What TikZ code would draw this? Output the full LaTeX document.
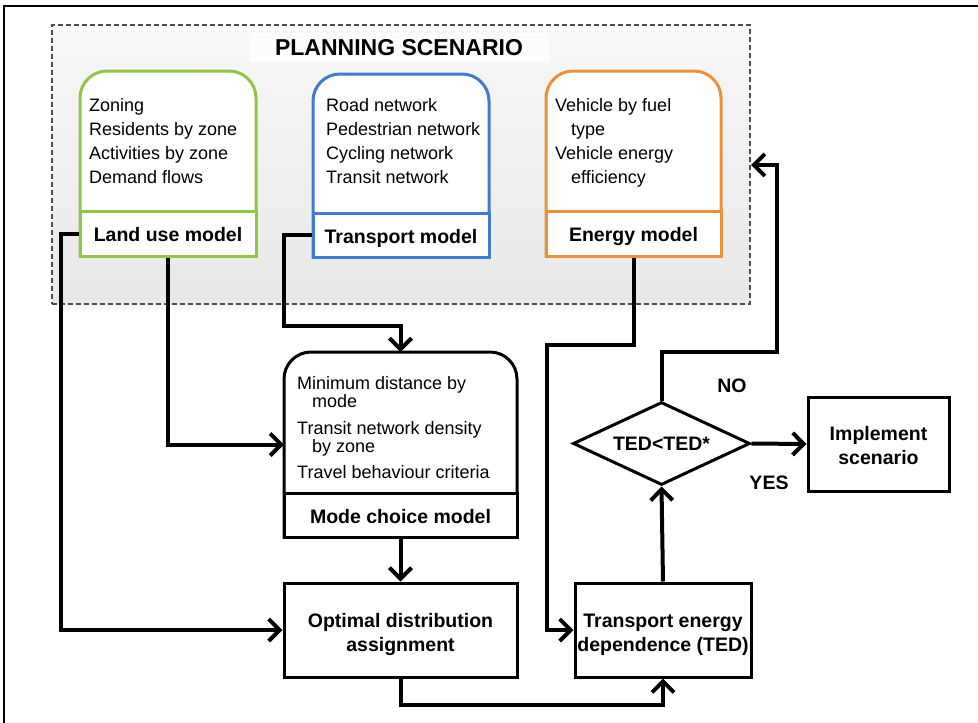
\documentclass[tikz,border=0pt]{standalone}
\usepackage{fontspec}
\setmainfont{Liberation Sans}
\usetikzlibrary{arrows.meta,shapes.geometric,calc}
\definecolor{lugreen}{RGB}{146,196,72}
\definecolor{tmblue}{RGB}{64,124,200}
\definecolor{emorange}{RGB}{232,146,62}
\newcommand{\regfont}{\fontsize{18}{22}\selectfont}
\newcommand{\boldfnt}{\fontsize{19.5}{23.5}\selectfont\bfseries}
\newcommand{\ttlfont}{\fontsize{23}{28}\selectfont\bfseries}
\newcommand{\twolines}[3]{\raisebox{-#1pt}[0pt][0pt]{\begin{tabular}[b]{@{}c@{}}#2\\#3\end{tabular}}}
\begin{document}
\begin{tikzpicture}[x=1pt,y=-1pt,
  conn/.style={line width=4pt,-{Straight Barb[length=11pt,width=22pt]}},
  hdr/.style={draw,line width=3pt,fill=white,font=\boldfnt,inner sep=0pt,text height=16pt,text depth=0pt},
  boxb/.style={draw,line width=3pt,fill=white,font=\boldfnt,inner sep=0pt},
  bodyarea/.style={inner sep=0pt,outer sep=0pt},
  txt/.style={anchor=base west,font=\regfont,inner sep=0pt},
  lbl/.style={font=\boldfnt,inner sep=0pt}]
\useasboundingbox (0,0) rectangle (978,723);

% frame (top and left only)
\draw[line width=1.5pt] (4,723) -- (4,6) -- (978,6);

% planning scenario region
\node[draw=black!70,dash pattern=on 5pt off 3pt,line width=1.2pt,
      top color=black!3,bottom color=black!9,
      minimum width=698,minimum height=279,inner sep=0pt] (scen) at (401,164.5) {};
\node[fill=black!1,minimum width=300,minimum height=29,inner sep=0pt,font=\ttlfont] (title) at (399,47.5) {PLANNING SCENARIO};

% Land use model
\node[bodyarea,minimum width=176,minimum height=185] (lub) at (168,163.5) {};
\draw[lugreen,line width=3pt,fill=white] (lub.south west) -- ($(lub.north west)+(0,27)$)
  arc[start angle=180,end angle=270,radius=27] -- ($(lub.north east)+(-27,0)$)
  arc[start angle=270,end angle=360,radius=27] -- (lub.south east) -- cycle;
\node[hdr,draw=lugreen,minimum width=176,minimum height=45] (lu) at (168,233.5) {Land use model};
\node[txt] (lu1) at (89,111) {Zoning};
\node[txt] (lu2) at (89,135) {Residents by zone};
\node[txt] (lu3) at (89,159) {Activities by zone};
\node[txt] (lu4) at (89,183) {Demand flows};

% Transport model
\node[bodyarea,minimum width=176,minimum height=183] (tmb) at (401,165.5) {};
\draw[tmblue,line width=3pt,fill=white] (tmb.south west) -- ($(tmb.north west)+(0,27)$)
  arc[start angle=180,end angle=270,radius=27] -- ($(tmb.north east)+(-27,0)$)
  arc[start angle=270,end angle=360,radius=27] -- (tmb.south east) -- cycle;
\node[hdr,draw=tmblue,minimum width=176,minimum height=44] (tm) at (401,235) {Transport model};
\node[txt] (tm1) at (326,111) {Road network};
\node[txt] (tm2) at (326,135) {Pedestrian network};
\node[txt] (tm3) at (326,159) {Cycling network};
\node[txt] (tm4) at (326,183) {Transit network};

% Energy model
\node[bodyarea,minimum width=175,minimum height=185] (emb) at (633.5,163.5) {};
\draw[emorange,line width=3pt,fill=white] (emb.south west) -- ($(emb.north west)+(0,27)$)
  arc[start angle=180,end angle=270,radius=27] -- ($(emb.north east)+(-27,0)$)
  arc[start angle=270,end angle=360,radius=27] -- (emb.south east) -- cycle;
\node[hdr,draw=emorange,minimum width=175,minimum height=45] (em) at (633.5,233.5) {Energy model};
\node[txt] (em1) at (555,111) {Vehicle by fuel};
\node[txt] (em2) at (571,135) {type};
\node[txt] (em3) at (555,159) {Vehicle energy};
\node[txt] (em4) at (571,183) {efficiency};

% Mode choice model
\node[bodyarea,minimum width=233,minimum height=185] (mcb) at (400.5,444.5) {};
\draw[black,line width=3pt,fill=white] (mcb.south west) -- ($(mcb.north west)+(0,27)$)
  arc[start angle=180,end angle=270,radius=27] -- ($(mcb.north east)+(-27,0)$)
  arc[start angle=270,end angle=360,radius=27] -- (mcb.south east) -- cycle;
\node[hdr,minimum width=233,minimum height=44] (mch) at (400.5,515) {Mode choice model};
\node[txt] (mc1) at (297,389) {Minimum distance by};
\node[txt] (mc2) at (312,407) {mode};
\node[txt] (mc3) at (297,434) {Transit network density};
\node[txt] (mc4) at (312,452) {by zone};
\node[txt] (mc5) at (297,478) {Travel behaviour criteria};

% lower boxes
\node[boxb,minimum width=233,minimum height=94] (opt) at (400.5,630) {\twolines{21}{Optimal distribution}{assignment}};
\node[boxb,minimum width=176,minimum height=94] (ted) at (663,630) {\twolines{21}{Transport energy}{dependence (TED)}};
\node[draw,line width=3pt,fill=white,diamond,aspect=2.13,minimum width=177,minimum height=83,
      inner sep=0pt,font=\boldfnt] (dia) at (661.5,443.5) {TED<TED*};
\node[boxb,minimum width=141,minimum height=94] (impl) at (878.5,444) {\twolines{20}{Implement}{scenario}};

\node[lbl] (nolab) at (732,386) {NO};
\node[lbl] (yeslab) at (769,483) {YES};

\coordinate (fbtip) at (751,165);

% connectors
\draw[conn] (lu.west) -- ++(-18,0) |- (opt.west);
\draw[conn] (lu.south) |- (mcb.west);
\draw[conn] (tm.west) -- ++(-28,0) -- ++(0,91) -| (mcb.north);
\draw[conn] (em.south) |- ++(-86.5,87) |- (ted.west);
\draw[conn] (mch.south) -- (opt.north);
\draw[conn] (opt.south) -- ++(0,26) -| (ted.south);
\draw[conn] (ted.north) -- (dia.south);
\draw[conn] (dia.north) |- ++(115,-49) |- (fbtip);
\draw[conn] (dia.east) -- (impl.west);
\end{tikzpicture}
\end{document}
